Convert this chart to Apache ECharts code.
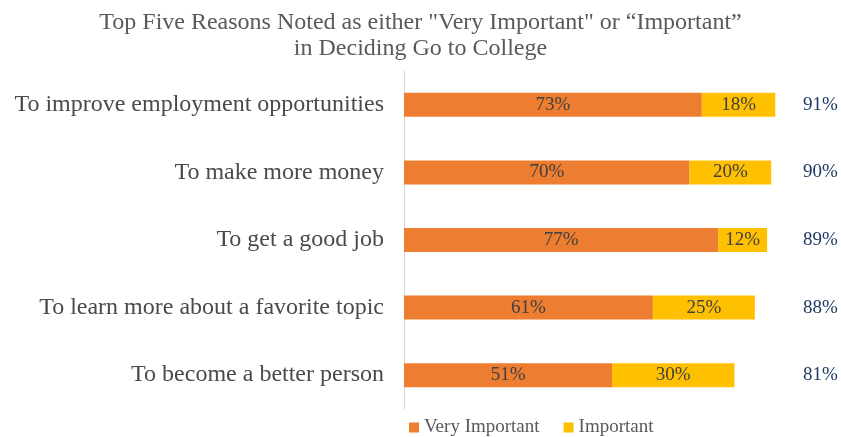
<!DOCTYPE html>
<html>
<head>
<meta charset="utf-8">
<script src="https://cdn.jsdelivr.net/npm/echarts@6/dist/echarts.min.js"></script>
<style>
  html, body { margin: 0; padding: 0; background: #fff; }
  #chart { width: 841px; height: 437px; }
</style>
</head>
<body>
<div id="chart"></div>
<script>
// data
var categories = [
  "To improve employment opportunities",
  "To make more money",
  "To get a good job",
  "To learn more about a favorite topic",
  "To become a better person"
];
var veryImportant = [73, 70, 77, 61, 51];
var important = [18, 20, 12, 25, 30];
var totals = [91, 90, 89, 88, 81];

var font = "'Liberation Serif', 'Times New Roman', serif";
var chart = echarts.init(document.getElementById("chart"));

var option = {
  animation: false,
  title: {
    text: 'Top Five Reasons Noted as either "Very Important" or \u201cImportant\u201d\nin Deciding Go to College',
    left: "center",
    top: 5,
    textStyle: {
      fontFamily: font,
      fontSize: 24,
      fontWeight: "normal",
      color: "#595959",
      lineHeight: 26
    }
  },
  legend: {
    top: 413,
    left: 404,
    itemWidth: 10,
    itemHeight: 10,
    itemGap: 24,
    icon: "rect",
    textStyle: { fontFamily: font, fontSize: 19, color: "#595959" },
    data: ["Very Important", "Important"]
  },
  grid: { left: 404, right: 29, top: 71, bottom: 28, containLabel: false },
  xAxis: {
    type: "value",
    min: 0,
    max: 100,
    show: false
  },
  yAxis: [
    {
      type: "category",
      inverse: true,
      data: categories,
      axisLine: { show: true, lineStyle: { color: "#d9d9d9", width: 1 } },
      axisTick: { show: false },
      axisLabel: {
        margin: 20,
        fontFamily: font,
        fontSize: 24,
        color: "#4a4a4a"
      }
    },
    {
      type: "category",
      inverse: true,
      position: "right",
      data: totals.map(function (v) { return v + "%"; }),
      axisLine: { show: false },
      axisTick: { show: false },
      axisLabel: {
        margin: -9,
        fontFamily: font,
        fontSize: 19,
        color: "#1f3864"
      }
    }
  ],
  series: [
    {
      name: "Very Important",
      type: "bar",
      stack: "total",
      barWidth: 24,
      data: veryImportant,
      itemStyle: { color: "#ed7d31" },
      label: {
        show: true,
        position: "inside",
        formatter: "{c}%",
        fontFamily: font,
        fontSize: 19,
        color: "#404040"
      }
    },
    {
      name: "Important",
      type: "bar",
      stack: "total",
      barWidth: 24,
      data: important,
      itemStyle: { color: "#ffc000" },
      label: {
        show: true,
        position: "inside",
        formatter: "{c}%",
        fontFamily: font,
        fontSize: 19,
        color: "#404040"
      }
    }
  ]
};

chart.setOption(option);
</script>
</body>
</html>
